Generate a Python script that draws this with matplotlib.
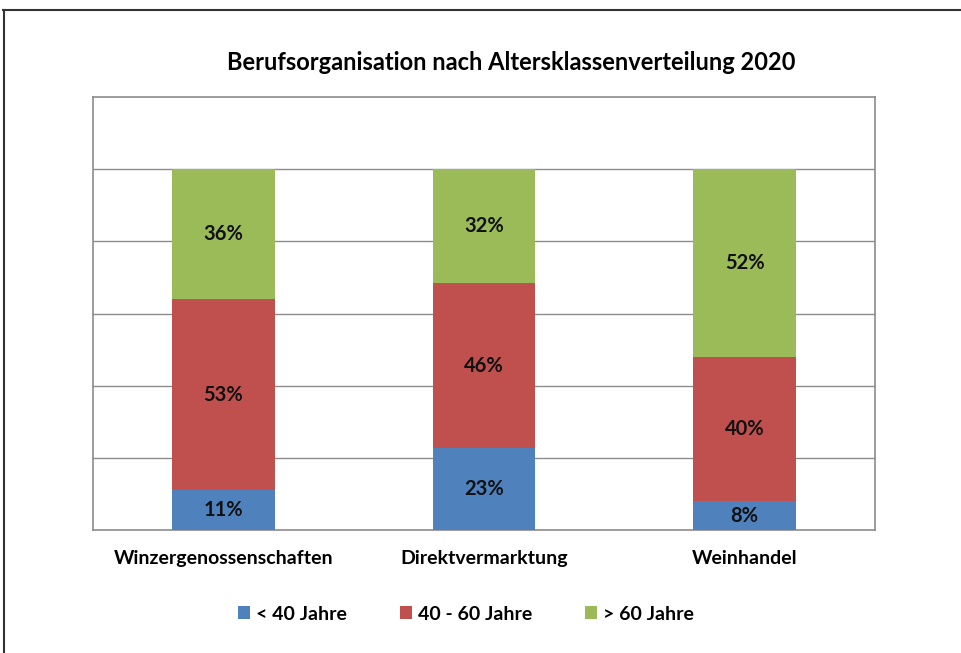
import matplotlib
matplotlib.use("Agg")
import matplotlib.pyplot as plt
import numpy as np

categories = ["Winzergenossenschaften", "Direktvermarktung", "Weinhandel"]
series_names = ["< 40 Jahre", "40 - 60 Jahre", "> 60 Jahre"]
under_40 = [11, 23, 8]
between_40_60 = [53, 46, 40]
over_60 = [36, 32, 52]
colors = ["#4F81BD", "#C0504D", "#9BBB59"]
title = "Berufsorganisation nach Altersklassenverteilung 2020"

plt.rcParams['font.family'] = ['Lato', 'DejaVu Sans']

fig = plt.figure(figsize=(9.62, 6.53), dpi=100)
W, H = 962, 653
ax = fig.add_axes([93 / W, 1 - 530 / H, (875 - 93) / W, (530 - 97) / H])

data = np.array([under_40, between_40_60, over_60], dtype=float)
totals = data.sum(axis=0)
frac = data / totals
x = np.arange(len(categories))
bottom = np.zeros(len(categories))
for i, name in enumerate(series_names):
    ax.bar(x, frac[i], 0.395, bottom=bottom, color=colors[i], label=name, zorder=3)
    for xi, b, f, v in zip(x, bottom, frac[i], data[i]):
        ax.text(xi, b + f / 2, f"{int(v)}%", ha="center", va="center",
                fontsize=14.5, fontweight="bold", color="#111111", zorder=4)
    bottom += frac[i]

ax.set_xlim(-0.5, 2.5)
ax.set_ylim(0, 1.2)
ax.set_yticks([0.2, 0.4, 0.6, 0.8, 1.0])
ax.yaxis.grid(True, color="#8c8c8c", linewidth=1.0, zorder=0)
ax.tick_params(axis="y", left=False, labelleft=False)
ax.tick_params(axis="x", bottom=False, pad=11)
ax.set_xticks(x)
ax.set_xticklabels(categories, fontsize=14, fontweight="bold")
for s in ax.spines.values():
    s.set_color("#8c8c8c")
    s.set_linewidth(1.2)

fig.text(511 / W, 1 - 62 / H, title, ha="center", va="center", fontsize=17, fontweight="bold")

leg = fig.legend(loc="center", bbox_to_anchor=(466 / W, 1 - 614 / H), ncol=3, frameon=False,
                 prop={"weight": "bold", "size": 14}, handlelength=0.6,
                 handleheight=0.6, handletextpad=0.3, columnspacing=2.75)

# outer chart frame (top and left visible)
fig.add_artist(plt.Line2D([3 / W, 1], [1 - 10 / H, 1 - 10 / H], color="#333333", linewidth=1.5,
                          transform=fig.transFigure))
fig.add_artist(plt.Line2D([3.5 / W, 3.5 / W], [0, 1 - 10 / H], color="#333333", linewidth=1.5,
                          transform=fig.transFigure))

fig.savefig("out.png", dpi=100)
